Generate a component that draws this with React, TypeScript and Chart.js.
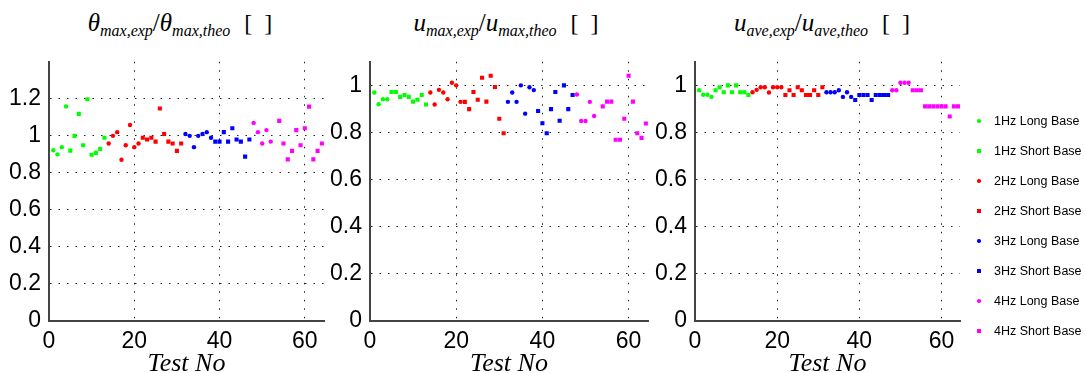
import React, { useEffect, useRef } from "react";
import { Chart, registerables } from "chart.js";
Chart.register(...registerables);

// ---------- data ----------
const seriesNames = [
  "1Hz Long Base", "1Hz Short Base",
  "2Hz Long Base", "2Hz Short Base",
  "3Hz Long Base", "3Hz Short Base",
  "4Hz Long Base", "4Hz Short Base",
];
const seriesColors = ["#00ff00", "#00ff00", "#ff0000", "#ff0000", "#0000ff", "#0000ff", "#ff00ff", "#ff00ff"];
const seriesStyles = ["circle", "rect", "circle", "rect", "circle", "rect", "circle", "rect"];

const tests1L = [1, 2, 3, 4];
const tests1S = [5, 6, 7, 8, 9, 10, 11, 12, 13];
const tests2L = [14, 15, 16, 17, 18, 19, 20, 21];
const tests2S = [22, 23, 24, 25, 26, 27, 28, 29, 30, 31];
const tests3L = [32, 33, 34, 35, 36, 37, 38];
const tests3S = [39, 40, 41, 42, 43, 44, 45, 46, 47];
const tests4L = [48, 49, 50, 51, 52];
const tests4S = [53, 54, 55, 56, 57, 58, 59, 60, 61, 62, 63, 64];
const seriesTests = [tests1L, tests1S, tests2L, tests2S, tests3L, tests3S, tests4L, tests4S];

// theta_max,exp / theta_max,theo
const theta1L = [0.922, 0.9, 0.939, 1.159];
const theta1S = [0.92, 1.0, 1.119, 0.949, 1.198, 0.898, 0.908, 0.929, 0.99];
const theta2L = [0.959, 1.0, 1.02, 0.871, 0.949, 1.059, 0.939, 0.959];
const theta2S = [0.99, 0.98, 0.99, 0.969, 1.148, 1.01, 0.969, 0.959, 0.919, 0.959];
const theta3L = [1.01, 1.0, 0.939, 1.0, 1.01, 1.02, 0.99];
const theta3S = [0.969, 0.969, 1.02, 0.969, 1.041, 0.98, 0.969, 0.888, 0.98];
const theta4L = [1.07, 1.02, 0.959, 1.031, 0.969];
const theta4S = [null, 1.081, 0.959, 0.873, 0.919, 1.031, 0.949, 1.041, 1.158, 0.873, 0.919, 0.959];

// u_max,exp / u_max,theo
const umax1L = [0.97, 0.92, 0.941, 0.941];
const umax1S = [0.972, 0.972, 0.951, 0.959, 0.951, 0.931, 0.939, 0.959, 0.919];
const umax2L = [0.97, 0.919, 0.981, 0.97, 0.941, 1.011, 1.0, 0.93];
const umax2S = [0.93, 0.899, 0.972, 0.939, 1.032, 0.931, 1.041, 0.993, 0.858, 0.797];
const umax3L = [0.93, 0.97, 0.93, 1.0, 0.88, 0.992, 0.98];
const umax3S = [0.891, 0.839, 0.797, 0.899, 0.972, 0.85, 1.0, 0.899, 0.959];
const umax4L = [0.961, 0.849, 0.849, 0.93, 0.87];
const umax4S = [null, 0.911, 0.931, 0.931, 0.769, 0.769, 0.858, 1.041, 0.931, 0.797, 0.777, 0.838];

// u_ave,exp / u_ave,theo
const uave1L = [0.979, 0.96, 0.96, 0.951];
const uave1S = [0.979, 0.992, 0.971, 1.0, 0.971, 1.0, 0.971, 0.971, 0.959];
const uave2L = [0.971, 0.981, 0.992, 0.992, 0.97, 0.992, 0.992, 0.992];
const uave2S = [0.959, 0.979, 0.959, 0.992, 0.979, 0.959, 0.959, 0.979, 0.959, 0.992];
const uave3L = [0.971, 0.971, 0.971, 0.979, 0.951, 0.971, 0.951];
const uave3S = [0.938, 0.959, 0.959, 0.959, 0.938, 0.959, 0.959, 0.959, 0.959];
const uave4L = [0.979, 0.979, 1.011, 1.011, 1.011];
const uave4S = [0.979, 0.979, 0.979, 0.911, 0.911, 0.911, 0.911, 0.911, 0.911, 0.868, 0.911, 0.911];

const xTicks = [0, 20, 40, 60];
const yTicksTheta = [0, 0.2, 0.4, 0.6, 0.8, 1, 1.2];
const yTicksU = [0, 0.2, 0.4, 0.6, 0.8, 1];
const xLabel = "Test No";

// ---------- layout ----------
const TOP = 40;
const CANVAS_H = 333;
const Y_AXIS_W = 49;
const X_AXIS_H = 52;
const TICK_FONT = 23;

type Panel = {
  values: (number | null)[][];
  yMax: number;
  yTicks: number[];
  xMax: number;
  left: number;
  width: number;
  padRight: number;
  titleCenter: number;
  title: React.ReactNode;
};

const titleStyle: React.CSSProperties = {
  fontFamily: "'Liberation Serif', serif",
  fontStyle: "italic",
  fontSize: 25,
  color: "#000",
  whiteSpace: "nowrap",
};
const subStyle: React.CSSProperties = { fontSize: 16, verticalAlign: "-5px", lineHeight: 0 };
const brStyle: React.CSSProperties = { fontStyle: "normal", marginLeft: 14, fontSize: 24 };

function Title({ sym, sub1, sub2 }: { sym: string; sub1: string; sub2: string }) {
  return (
    <span style={titleStyle}>
      {sym}
      <span style={subStyle}>{sub1}</span>
      <span style={{ fontStyle: "normal" }}>/</span>
      {sym}
      <span style={subStyle}>{sub2}</span>
      <span style={brStyle}>[&nbsp;&nbsp;]</span>
    </span>
  );
}

const panels: Panel[] = [
  {
    values: [theta1L, theta1S, theta2L, theta2S, theta3L, theta3S, theta4L, theta4S],
    yMax: 1.4,
    yTicks: yTicksTheta,
    xMax: 64.5,
    left: 0,
    width: 330,
    padRight: 6,
    titleCenter: 180,
    title: <Title sym="θ" sub1="max,exp" sub2="max,theo" />,
  },
  {
    values: [umax1L, umax1S, umax2L, umax2S, umax3L, umax3S, umax4L, umax4S],
    yMax: 1.1,
    yTicks: yTicksU,
    xMax: 64.5,
    left: 321,
    width: 334,
    padRight: 7,
    titleCenter: 506,
    title: <Title sym="u" sub1="max,exp" sub2="max,theo" />,
  },
  {
    values: [uave1L, uave1S, uave2L, uave2S, uave3L, uave3S, uave4L, uave4S],
    yMax: 1.1,
    yTicks: yTicksU,
    xMax: 64.5,
    left: 646,
    width: 320,
    padRight: 6,
    titleCenter: 822,
    title: <Title sym="u" sub1="ave,exp" sub2="ave,theo" />,
  },
];

function ScatterPanel({ panel }: { panel: Panel }) {
  const ref = useRef<HTMLCanvasElement | null>(null);
  useEffect(() => {
    if (!ref.current) return;
    const datasets = seriesNames.map((name, si) => ({
      label: name,
      data: seriesTests[si]
        .map((t, i) => ({ x: t, y: panel.values[si][i] }))
        .filter((p) => p.y !== null && p.y !== undefined),
      pointStyle: seriesStyles[si] as any,
      pointRadius: seriesStyles[si] === "rect" ? 2.9 : 2.2,
      pointBorderWidth: 0,
      backgroundColor: seriesColors[si],
      borderColor: seriesColors[si],
      showLine: false,
    }));
    const chart = new Chart(ref.current, {
      type: "scatter",
      data: { datasets },
      options: {
        animation: false,
        responsive: false,
        maintainAspectRatio: false,
        events: [],
        layout: { padding: { top: 7, right: panel.padRight, left: 0, bottom: 0 } },
        plugins: {
          legend: { display: false },
          tooltip: { enabled: false },
          title: { display: false },
        },
        scales: {
          x: {
            type: "linear",
            min: 0,
            max: panel.xMax,
            afterFit: (s: any) => {
              s.height = X_AXIS_H;
            },
            afterBuildTicks: (s: any) => {
              s.ticks = xTicks.map((v) => ({ value: v }));
            },
            ticks: {
              font: { family: "'Liberation Sans', sans-serif", size: TICK_FONT, lineHeight: 1 },
              color: "#000",
              padding: 9,
              maxRotation: 0,
              autoSkip: false,
            },
            grid: { color: "#222", lineWidth: 1, drawTicks: false },
            border: { display: true, color: "#444", width: 2, dash: [1.5, 7] },
            title: {
              display: true,
              text: xLabel,
              color: "#000",
              font: { family: "'Liberation Serif', serif", style: "italic", size: 26, lineHeight: 1 },
              padding: { top: 0, bottom: -4 },
            },
          },
          y: {
            type: "linear",
            min: 0,
            max: panel.yMax,
            afterFit: (s: any) => {
              s.width = Y_AXIS_W;
            },
            afterBuildTicks: (s: any) => {
              s.ticks = panel.yTicks.map((v) => ({ value: v }));
            },
            ticks: {
              font: { family: "'Liberation Sans', sans-serif", size: TICK_FONT },
              color: "#000",
              padding: 8,
              autoSkip: false,
              callback: (v: any) => {
                const n = Number(v);
                return Number.isInteger(n) ? String(n) : n.toFixed(1);
              },
            },
            grid: { color: "#222", lineWidth: 1, drawTicks: false },
            border: { display: true, color: "#444", width: 2, dash: [1.5, 7] },
          },
        },
      },
    });
    return () => chart.destroy();
  }, [panel]);

  return (
    <>
      <div
        style={{
          position: "absolute",
          left: panel.titleCenter - 150,
          width: 300,
          top: 9,
          textAlign: "center",
          lineHeight: "28px",
        }}
      >
        {panel.title}
      </div>
      <canvas
        ref={ref}
        width={panel.width}
        height={CANVAS_H}
        style={{ position: "absolute", left: panel.left, top: TOP, width: panel.width, height: CANVAS_H }}
      />
    </>
  );
}

function Legend() {
  return (
    <div style={{ position: "absolute", left: 972, top: 0 }}>
      {seriesNames.map((name, i) => {
        const cy = 121 + i * 30;
        const isRect = seriesStyles[i] === "rect";
        const sz = isRect ? 4 : 3.5;
        return (
          <div key={name}>
            <div
              style={{
                position: "absolute",
                left: 7 - sz / 2,
                top: cy - sz / 2,
                width: sz,
                height: sz,
                background: seriesColors[i],
                borderRadius: isRect ? 0 : "50%",
              }}
            />
            <div
              style={{
                position: "absolute",
                left: 22,
                top: cy - 9,
                height: 18,
                lineHeight: "18px",
                fontFamily: "'Liberation Sans', sans-serif",
                fontSize: 12.5,
                color: "#000",
                whiteSpace: "nowrap",
              }}
            >
              {name}
            </div>
          </div>
        );
      })}
    </div>
  );
}

export default function App() {
  return (
    <div
      style={{
        position: "fixed",
        left: 0,
        top: 0,
        width: 1086,
        height: 373,
        background: "#fff",
        overflow: "hidden",
      }}
    >
      {panels.map((p, i) => (
        <ScatterPanel key={i} panel={p} />
      ))}
      <Legend />
    </div>
  );
}
